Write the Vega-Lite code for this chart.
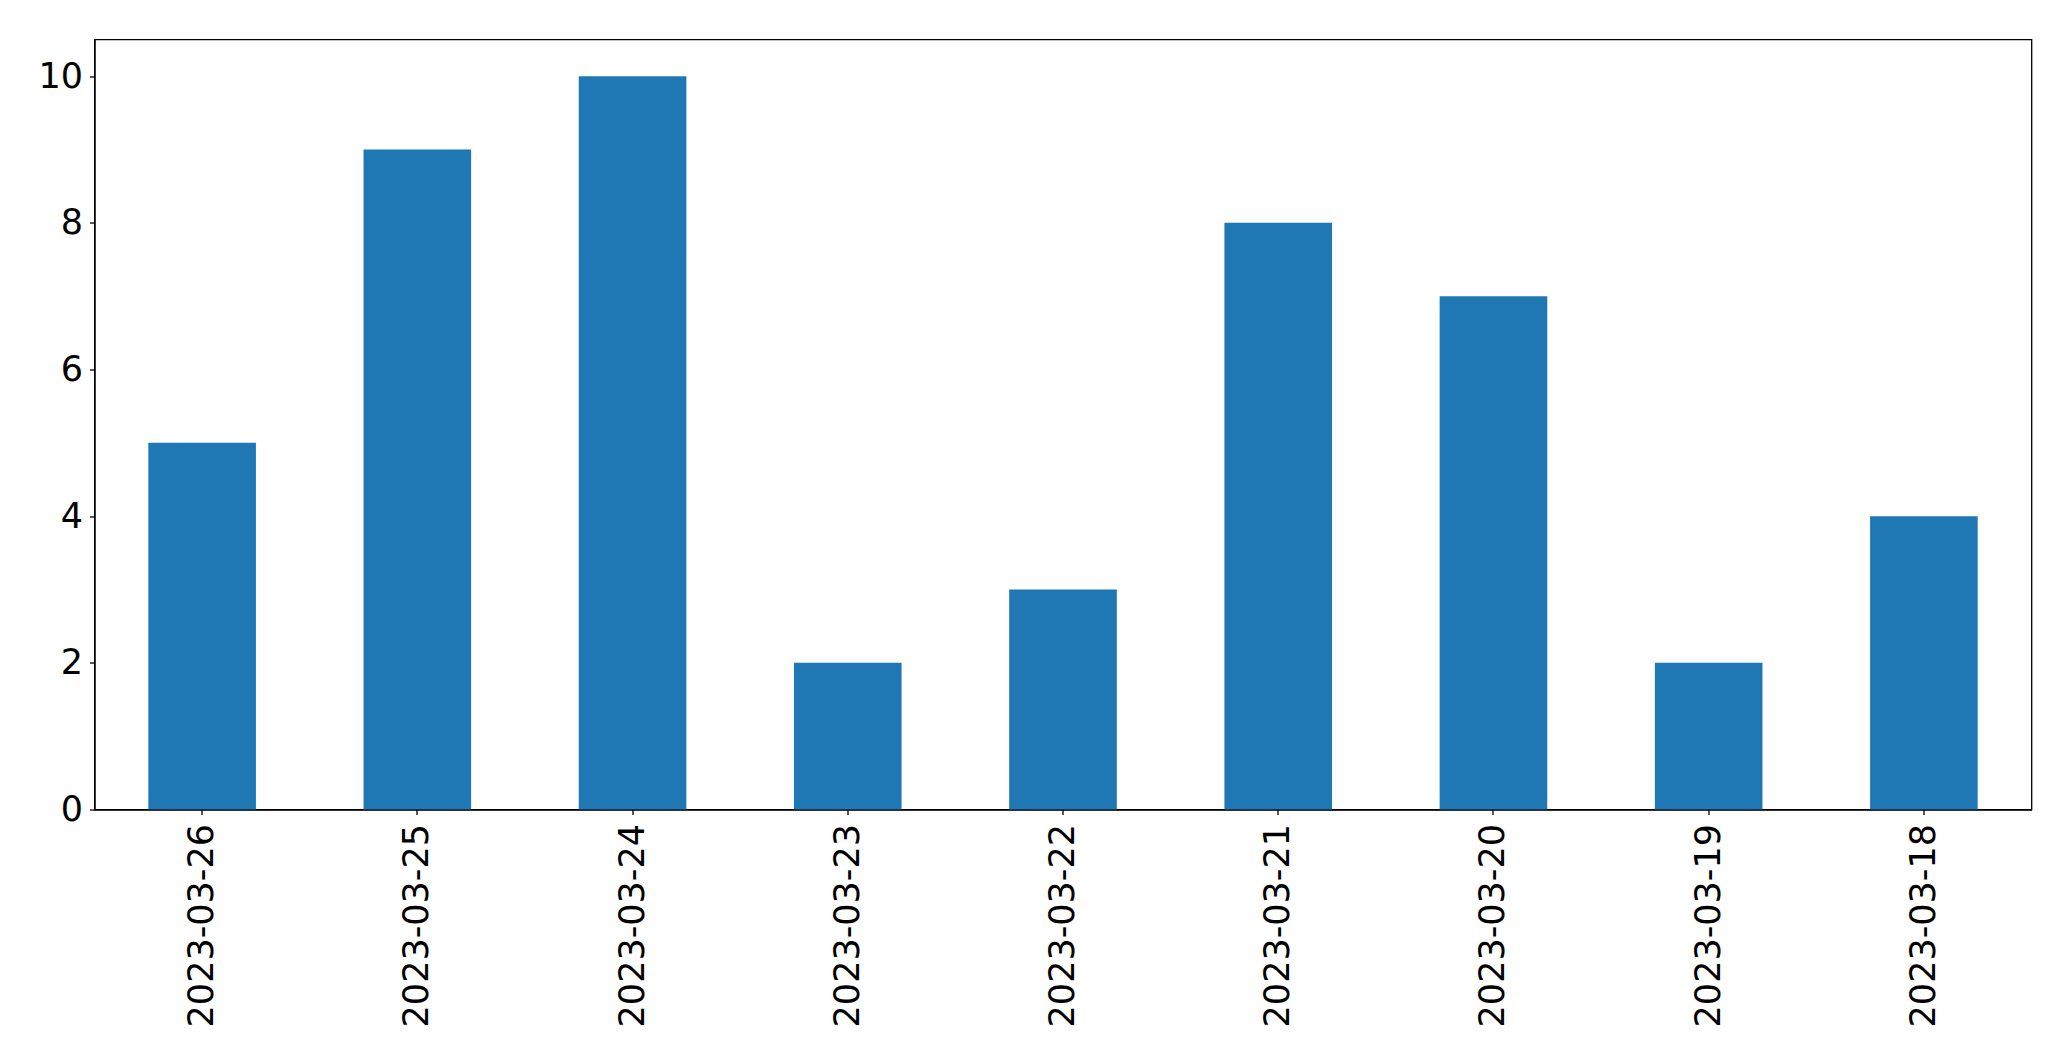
{
  "$schema": "https://vega.github.io/schema/vega-lite/v6.json",
  "width": 1937,
  "height": 770,
  "autosize": {"type": "none"},
  "padding": {"left": 94.5, "top": 39.5, "right": 39.5, "bottom": 251.5},
  "background": "white",
  "config": {
    "view": {"stroke": "black", "strokeWidth": 1.3},
    "axis": {"grid": false, "domainColor": "black", "tickColor": "black", "labelColor": "black", "labelFont": "DejaVu Sans", "labelFontSize": 35, "labelLimit": 0, "tickSize": 5, "domainWidth": 1.3, "tickWidth": 1.3}
  },
  "data": {
    "values": [
      {"date": "2023-03-26", "count": 5},
      {"date": "2023-03-25", "count": 9},
      {"date": "2023-03-24", "count": 10},
      {"date": "2023-03-23", "count": 2},
      {"date": "2023-03-22", "count": 3},
      {"date": "2023-03-21", "count": 8},
      {"date": "2023-03-20", "count": 7},
      {"date": "2023-03-19", "count": 2},
      {"date": "2023-03-18", "count": 4}
    ]
  },
  "mark": {"type": "bar", "color": "#1f77b4"},
  "encoding": {
    "x": {
      "field": "date", "type": "nominal", "sort": null,
      "scale": {"paddingInner": 0.5, "paddingOuter": 0.25},
      "axis": {"title": null, "labelAngle": -90, "labelPadding": 9}
    },
    "y": {
      "field": "count", "type": "quantitative",
      "scale": {"domain": [0, 10.5], "nice": false},
      "axis": {"title": null, "values": [0, 2, 4, 6, 8, 10], "labelPadding": 7}
    }
  }
}
